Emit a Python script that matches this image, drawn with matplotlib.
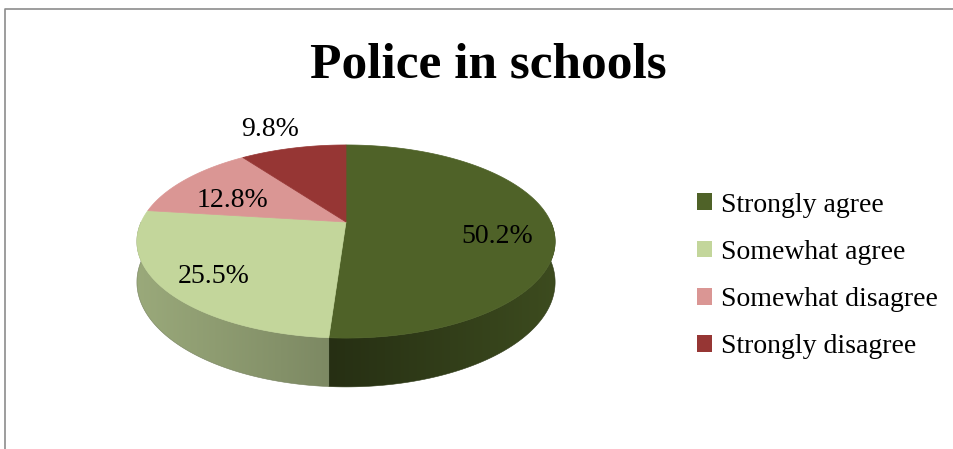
"""Police in schools - 3D-style pie chart."""

import numpy as np
import matplotlib
matplotlib.use("Agg")
import matplotlib.pyplot as plt
from matplotlib.patches import Polygon, Patch
from matplotlib.lines import Line2D
from matplotlib.colors import to_rgb

# ==================== data ====================
TITLE = "Police in schools"
categories = ["Strongly agree", "Somewhat agree", "Somewhat disagree", "Strongly disagree"]
values = [50.2, 25.5, 12.8, 9.8]
labels = ["50.2%", "25.5%", "12.8%", "9.8%"]
colors = ["#4F6228", "#C3D69B", "#DA9694", "#963634"]

# ==================== geometry / style ====================
W, H = 954, 449
CX, CY = 346, 222        # projected centre of the disc (px)
A, B = 204.8, 92.6       # horizontal / vertical scale of the disc (px)
K = 0.202                # perspective strength
DEPTH0 = 39.0            # disc thickness before perspective (px)
LABEL_R = [0.73, 0.78, 0.63, 1.34]
LABEL_DA = [9.7, -2.9, -8.2, -2.3]   # label angle nudges (deg)
FONT = "Liberation Serif"


def project(theta_deg, r=1.0, depth=0.0):
    """Point on the disc at angle theta (clockwise from 12 o'clock)."""
    t = np.radians(theta_deg)
    u, v = r * np.sin(t), r * np.cos(t)
    s = 1.0 + K * v
    return CX + A * u / s, CY - B * v / s + depth / s


def shade(color, factor):
    r, g, b = to_rgb(color)
    return np.array([r * factor, g * factor, b * factor])


fig = plt.figure(figsize=(W / 100, H / 100), dpi=100)
ax = fig.add_axes([0, 0, 1, 1])
ax.set_xlim(0, W)
ax.set_ylim(H, 0)
ax.axis("off")

fractions = np.array(values) / np.sum(values)
edges = np.concatenate([[0.0], np.cumsum(fractions) * 360.0])
# slice boundary closest to the front of the disc: lighting changes there
front_edge = edges[np.argmin(np.abs(edges - 180.0))]
seam_x = project(front_edge)[0]

# side wall: front half only (90..270 deg clockwise from top)
for i, col in enumerate(colors):
    a0, a1 = max(edges[i], 90.0), min(edges[i + 1], 270.0)
    if a1 <= a0:
        continue
    arc = np.linspace(a0, a1, int((a1 - a0) * 2) + 2)
    top = [project(a) for a in arc]
    bot = [project(a, depth=DEPTH0) for a in arc[::-1]]
    pts = np.array(top + bot)
    poly = Polygon(pts, closed=True, facecolor="none", edgecolor="none")
    ax.add_patch(poly)
    xmin, xmax = pts[:, 0].min(), pts[:, 0].max()
    ymin, ymax = pts[:, 1].min(), pts[:, 1].max()
    xs = np.linspace(xmin, xmax, 200)
    d = np.abs(xs - seam_x) / A
    if edges[i] >= front_edge:
        f = 0.64 + 0.16 * d      # left part of the wall
    else:
        f = 0.48 + 0.26 * d      # right part of the wall
    grad = np.array([shade(col, fi) for fi in f])[None, :, :]
    im = ax.imshow(grad, extent=(xmin, xmax, ymax, ymin), aspect="auto",
                   interpolation="bilinear", zorder=1)
    im.set_clip_path(poly)
    ax.add_patch(Polygon(pts, closed=True, facecolor="none",
                         edgecolor=shade(col, 0.6), linewidth=0.4, zorder=1))

ax.set_xlim(0, W)
ax.set_ylim(H, 0)

# top face
handles = []
for i, col in enumerate(colors):
    arc = np.linspace(edges[i], edges[i + 1], int((edges[i + 1] - edges[i]) * 2) + 2)
    pts = [project(0.0, r=0.0)] + [project(a) for a in arc]
    ax.add_patch(Polygon(pts, closed=True, facecolor=col, edgecolor=col,
                         linewidth=0.5, zorder=2))
    handles.append(Patch(facecolor=col, edgecolor="none", label=categories[i]))

# percentage labels
for i, lab in enumerate(labels):
    mid = 0.5 * (edges[i] + edges[i + 1]) + LABEL_DA[i]
    x, y = project(mid, r=LABEL_R[i])
    ax.text(x, y, lab, ha="center", va="center", fontsize=20, family=FONT,
            color="black", zorder=3)

# title
ax.text(488, 77, TITLE, ha="center", va="baseline", fontsize=37,
        fontweight="bold", family=FONT, color="black")

# legend
fig.legend(handles=handles, loc="center left",
           bbox_to_anchor=(697 / W, 1 - 276 / H), frameon=False,
           prop={"family": FONT, "size": 20},
           handlelength=0.55, handleheight=0.55, handletextpad=0.3,
           labelspacing=0.8, borderpad=0, borderaxespad=0)

# chart area border (only top and left visible)
ax.add_line(Line2D([5, 5, W], [H, 9, 9], color="#8C8C8C", linewidth=1.2))

fig.savefig("out.png", dpi=100)
